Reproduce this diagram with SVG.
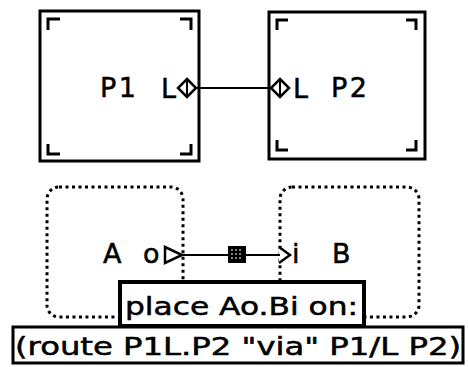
<svg xmlns="http://www.w3.org/2000/svg" width="468" height="367" viewBox="0 0 468 367">
  <style>
    .frame { fill: #fff; stroke: #000; stroke-width: 3; }
    .corner { fill: none; stroke: #000; stroke-width: 3; }
    .dotted { fill: none; stroke: #000; stroke-width: 3; stroke-dasharray: 3 3.5; stroke-linecap: butt; }
    .wire { fill: none; stroke: #000; stroke-width: 2; }
    .port { fill: #fff; stroke: #000; stroke-width: 2.5; stroke-linejoin: miter; }
    .label { font-family: "DejaVu Sans", "Liberation Sans", sans-serif; font-size: 27px; fill: #000; stroke: #000; stroke-width: 0.5; }
    .cmd { font-family: "DejaVu Sans", "Liberation Sans", sans-serif; font-size: 24px; fill: #000; stroke: #000; stroke-width: 0.5; }
  </style>

  <!-- processor P1 -->
  <g id="P1">
    <rect class="frame" x="40" y="11" width="159" height="150"/>
    <path class="corner" d="M48 30 V19 H60 M180 19 H191 V30 M48 144 V154 H60 M180 154 H191 V144"/>
    <text class="label" x="100" y="97" textLength="36" lengthAdjust="spacing">P1</text>
    <text class="label" x="161" y="98">L</text>
    <path class="port" d="M187 79 L196 88 L187 97 L178 88 Z"/>
    <line class="wire" x1="187" y1="79" x2="187" y2="97"/>
  </g>

  <!-- processor P2 -->
  <g id="P2">
    <rect class="frame" x="269" y="12" width="156" height="147"/>
    <path class="corner" d="M277 30 V20 H288 M406 20 H416 V30 M277 140 V150 H288 M406 150 H416 V140"/>
    <path class="port" d="M280 79 L289 88 L280 97 L271 88 Z"/>
    <line class="wire" x1="280" y1="79" x2="280" y2="97"/>
    <text class="label" x="293" y="98">L</text>
    <text class="label" x="331" y="97" textLength="36" lengthAdjust="spacing">P2</text>
  </g>

  <!-- process A -->
  <g id="A">
    <rect class="dotted" x="47" y="187" width="136" height="130" rx="12"/>
    <text class="label" x="103" y="263">A</text>
    <text class="label" x="143" y="263">o</text>
    <path class="port" d="M165 247 L182 255 L165 263 Z"/>
  </g>

  <!-- process B -->
  <g id="B">
    <rect class="dotted" x="280" y="187" width="139" height="130" rx="12"/>
    <path class="port" d="M279 247 L290 255 L279 263"/>
    <text class="label" x="292" y="263">i</text>
    <text class="label" x="332" y="263">B</text>
  </g>

  <!-- connectors -->
  <g id="connectors">
    <line class="wire" x1="182" y1="255" x2="228" y2="255"/>
    <line class="wire" x1="246" y1="255" x2="280" y2="255"/>
    <line class="wire" x1="196" y1="88" x2="271" y2="88"/>
    <g id="channel">
      <rect x="228" y="246" width="18" height="17" fill="#000"/>
      <path d="M231 250 H243 M231 254 H243 M231 258 H243" stroke="#fff" stroke-width="1" stroke-dasharray="2 2"/>
    </g>
  </g>

  <!-- command boxes -->
  <g id="place">
    <rect x="120" y="282" width="244" height="44" fill="#fff" stroke="#000" stroke-width="4"/>
    <text class="cmd" x="125" y="315" textLength="233" lengthAdjust="spacingAndGlyphs">place Ao.Bi on:</text>
  </g>
  <g id="route">
    <rect x="13" y="327" width="450" height="36" fill="#fff" stroke="#000" stroke-width="3"/>
    <text class="cmd" x="15" y="355" textLength="446" lengthAdjust="spacingAndGlyphs">(route P1L.P2 "via" P1/L P2)</text>
  </g>
</svg>
